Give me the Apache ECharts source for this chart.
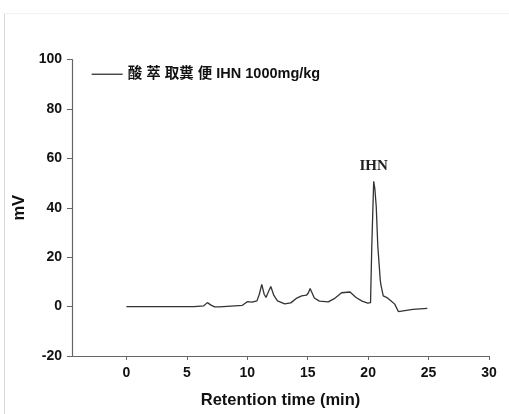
<!DOCTYPE html>
<html>
<head>
<meta charset="utf-8">
<script src="https://cdn.jsdelivr.net/npm/echarts@6/dist/echarts.min.js"></script>
<style>
html,body{margin:0;padding:0;background:#fff;}
#c{width:509px;height:414px;}
</style>
</head>
<body>
<div id="c"></div>
<script>
// Retention time (min)
var times = [0, 5.6, 5.7, 6.4, 6.7, 7.0, 7.3, 7.7, 7.8, 9.6, 10.0, 10.4, 10.8, 11.0, 11.2, 11.4, 11.55, 11.75, 11.95, 12.2, 12.5, 13.1, 13.6, 14.05, 14.5, 14.9, 15.05, 15.2, 15.55, 15.97, 16.7, 17.2, 17.8, 18.5, 19.0, 19.5, 19.97, 20.2, 20.3, 20.46, 20.55, 20.67, 20.8, 21.0, 21.05, 21.25, 21.6, 21.9, 22.2, 22.5, 22.9, 23.7, 24.9];
// Signal (mV)
var signal = [0, 0, 0.3, 0.3, 1.6, 0.6, -0.1, -0.1, 0.5, 0.5, 2.0, 1.8, 2.3, 5, 9.0, 5, 3.7, 6, 8.1, 4.5, 2.3, 1.1, 1.5, 3.3, 4.3, 4.6, 5.5, 7.3, 3.5, 2.2, 1.9, 3.2, 5.6, 5.9, 3.7, 2.2, 1.4, 1.6, 24, 50.7, 48, 40.6, 24.5, 11, 9, 4.3, 3.5, 2.3, 1.0, -2.0, -1.7, -1.1, -0.7];
var seriesName = '酸 萃 取糞 便 IHN 1000mg/kg';
var peakLabel = 'IHN';
var peakTime = 20.46, peakValue = 50.7;
var xTicks = [0, 5, 10, 15, 20, 25, 30];

var data = times.map(function (t, i) { return [t, signal[i]]; });
var chart = echarts.init(document.getElementById('c'));
var axisColor = '#666';
var labelFont = {color: '#111', fontWeight: 'bold', fontSize: 14, fontFamily: 'Liberation Sans, Arial, sans-serif'};
chart.setOption({
  animation: false,
  backgroundColor: '#fff',
  grid: {left: 72, right: 20, top: 59.5, bottom: 57, containLabel: false},
  legend: {
    left: 86, top: 62,
    itemWidth: 31, itemHeight: 14, itemGap: 6,
    itemStyle: {opacity: 0},
    lineStyle: {color: '#333', width: 1.3},
    textStyle: {color: '#111', fontWeight: 'bold', fontSize: 14.5, fontFamily: 'Liberation Sans, Noto Sans CJK TC, sans-serif'},
    data: [seriesName]
  },
  xAxis: {
    type: 'value', min: -4.5, max: 30,
    name: 'Retention time (min)', nameLocation: 'middle', nameGap: 36,
    nameTextStyle: {color: '#111', fontWeight: 'bold', fontSize: 16.5, fontFamily: 'Liberation Sans, Arial, sans-serif'},
    axisLine: {show: true, onZero: false, lineStyle: {color: axisColor, width: 1.2}},
    axisTick: {show: true, inside: false, length: 4, customValues: xTicks, lineStyle: {color: axisColor}},
    axisLabel: Object.assign({customValues: xTicks, margin: 10}, labelFont),
    splitLine: {show: false}
  },
  yAxis: {
    type: 'value', min: -20, max: 100, interval: 20,
    name: 'mV', nameLocation: 'middle', nameGap: 44, nameRotate: 90,
    nameTextStyle: {color: '#111', fontWeight: 'bold', fontSize: 16.5, fontFamily: 'Liberation Sans, Arial, sans-serif'},
    axisLine: {show: true, onZero: false, lineStyle: {color: axisColor, width: 1.2}},
    axisTick: {show: true, inside: false, length: 5, lineStyle: {color: axisColor}},
    axisLabel: Object.assign({margin: 10}, labelFont),
    splitLine: {show: false}
  },
  series: [{
    name: seriesName,
    type: 'line',
    data: data,
    symbol: 'none',
    lineStyle: {color: '#333', width: 1.3},
    itemStyle: {color: '#333'},
    markPoint: {
      symbol: 'circle', symbolSize: 0,
      label: {show: true, position: 'top', distance: 8, formatter: peakLabel, color: '#222', fontWeight: 'bold', fontSize: 15, fontFamily: 'Liberation Serif, Times New Roman, serif'},
      data: [{coord: [peakTime, peakValue]}]
    }
  }],
  graphic: [
    {type: 'line', shape: {x1: 4.5, y1: 13, x2: 4.5, y2: 414}, style: {stroke: '#d8d8d8', lineWidth: 1}, silent: true},
    {type: 'line', shape: {x1: 4, y1: 13.5, x2: 509, y2: 13.5}, style: {stroke: '#f3f3f3', lineWidth: 1}, silent: true}
  ]
});
</script>
</body>
</html>
